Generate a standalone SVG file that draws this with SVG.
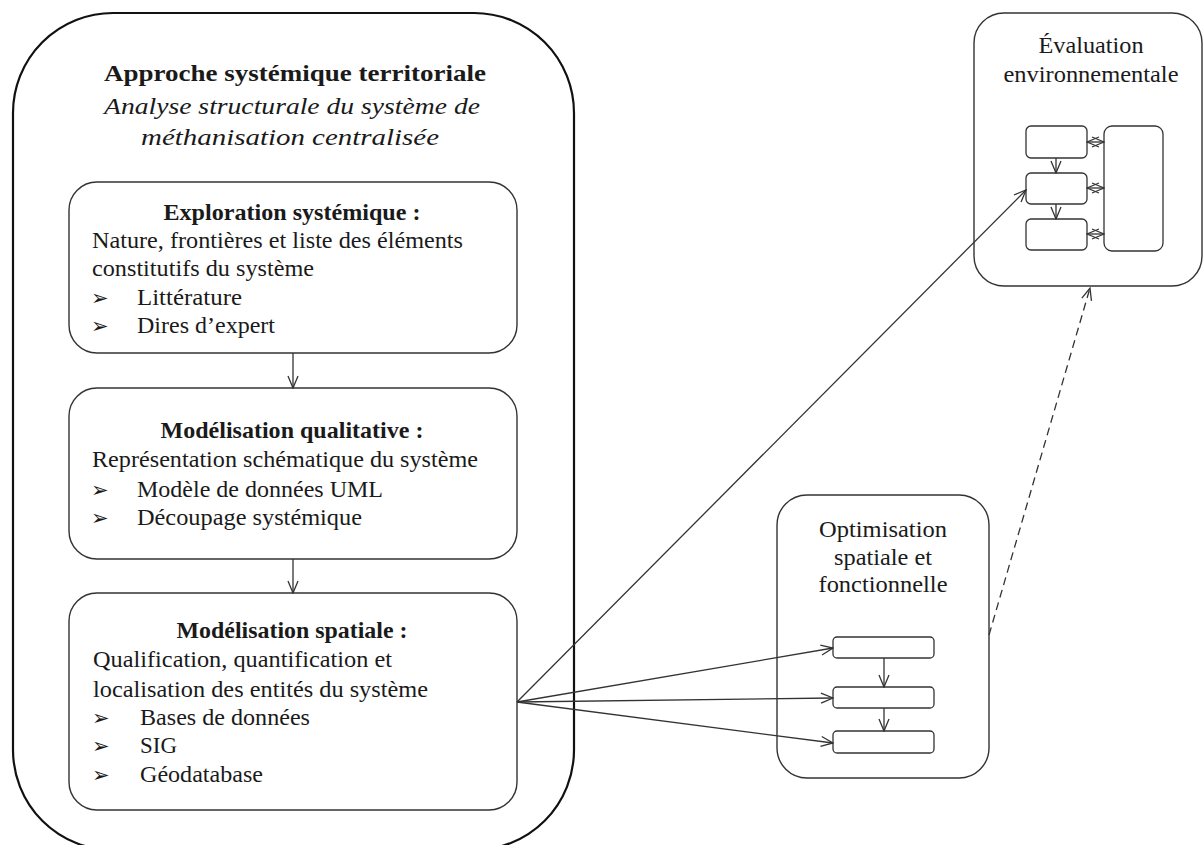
<svg xmlns="http://www.w3.org/2000/svg" width="1203" height="845" viewBox="0 0 1203 845">
<style>
.t{font-family:"Liberation Serif","Times New Roman",serif;font-size:23px;fill:#1a1a1a}
.b{font-weight:bold}
.i{font-style:italic}
.m{text-anchor:middle}
.bul{font-family:"DejaVu Sans",sans-serif;font-size:21px;fill:#1a1a1a}
.box{fill:#fff;stroke:#333;stroke-width:1.4}
.sm{fill:#fff;stroke:#333;stroke-width:1.3}
.c{fill:none;stroke:#333;stroke-width:1.3}
</style>
<defs>
<marker id="a" viewBox="0 0 14 12" refX="13" refY="6" markerWidth="14" markerHeight="12" markerUnits="userSpaceOnUse" orient="auto-start-reverse">
<path d="M1,1 L13,6 L1,11" fill="none" stroke="#333" stroke-width="1.3"/>
</marker>
<marker id="s" viewBox="0 0 14 12" refX="13" refY="6" markerWidth="14" markerHeight="12" markerUnits="userSpaceOnUse" orient="auto-start-reverse">
<path d="M1,1 L13,6 L1,11" fill="none" stroke="#333" stroke-width="1.2"/>
</marker>
</defs>
<rect id="outer" x="13" y="13" width="561" height="837" rx="100" ry="100" fill="#fff" stroke="#111" stroke-width="2.2"/>
<g id="title">
<text class="t b m" x="295" y="81" font-size="25" textLength="382" lengthAdjust="spacingAndGlyphs">Approche systémique territoriale</text>
<text class="t i m" x="292" y="114" textLength="376" lengthAdjust="spacingAndGlyphs">Analyse structurale du système de</text>
<text class="t i m" x="290" y="145" textLength="298" lengthAdjust="spacingAndGlyphs">méthanisation centralisée</text>
</g>
<g id="exploration">
<rect class="box" x="69" y="182" width="448" height="171" rx="28"/>
<text class="t b m" x="292" y="220" textLength="257" lengthAdjust="spacingAndGlyphs">Exploration systémique :</text>
<text class="t" x="92" y="248" textLength="371" lengthAdjust="spacingAndGlyphs">Nature, frontières et liste des éléments</text>
<text class="t" x="92" y="276" textLength="222" lengthAdjust="spacingAndGlyphs">constitutifs du système</text>
<text class="bul" x="91" y="305">➢</text>
<text class="t" x="137" y="305" textLength="105" lengthAdjust="spacingAndGlyphs">Littérature</text>
<text class="bul" x="91" y="333">➢</text>
<text class="t" x="137" y="333" textLength="138" lengthAdjust="spacingAndGlyphs">Dires d’expert</text>
</g>
<g id="qualitative">
<rect class="box" x="69" y="388" width="448" height="171" rx="28"/>
<text class="t b m" x="292" y="438" textLength="263" lengthAdjust="spacingAndGlyphs">Modélisation qualitative :</text>
<text class="t" x="92" y="467" textLength="386" lengthAdjust="spacingAndGlyphs">Représentation schématique du système</text>
<text class="bul" x="91" y="497">➢</text>
<text class="t" x="137" y="497" textLength="246" lengthAdjust="spacingAndGlyphs">Modèle de données UML</text>
<text class="bul" x="91" y="525">➢</text>
<text class="t" x="137" y="525" textLength="225" lengthAdjust="spacingAndGlyphs">Découpage systémique</text>
</g>
<g id="spatiale">
<rect class="box" x="69" y="593" width="448" height="217" rx="28"/>
<text class="t b m" x="292" y="638" textLength="231" lengthAdjust="spacingAndGlyphs">Modélisation spatiale :</text>
<text class="t" x="93" y="667" textLength="299" lengthAdjust="spacingAndGlyphs">Qualification, quantification et</text>
<text class="t" x="93" y="697" textLength="335" lengthAdjust="spacingAndGlyphs">localisation des entités du système</text>
<text class="bul" x="92" y="725">➢</text>
<text class="t" x="140" y="725" textLength="170" lengthAdjust="spacingAndGlyphs">Bases de données</text>
<text class="bul" x="92" y="753">➢</text>
<text class="t" x="140" y="753" textLength="37" lengthAdjust="spacingAndGlyphs">SIG</text>
<text class="bul" x="92" y="782">➢</text>
<text class="t" x="140" y="782" textLength="123" lengthAdjust="spacingAndGlyphs">Géodatabase</text>
</g>
<g id="evaluation">
<rect class="box" x="974" y="13" width="228" height="273" rx="30"/>
<text class="t m" x="1091" y="53" textLength="105" lengthAdjust="spacingAndGlyphs">Évaluation</text>
<text class="t m" x="1091" y="82" textLength="175" lengthAdjust="spacingAndGlyphs">environnementale</text>
<rect class="sm" x="1026" y="126" width="61" height="32" rx="5"/>
<rect class="sm" x="1026" y="173" width="61" height="31" rx="5"/>
<rect class="sm" x="1026" y="219" width="61" height="31" rx="5"/>
<rect class="sm" x="1104" y="126" width="59" height="125" rx="8"/>
</g>
<g id="optimisation">
<rect class="box" x="777" y="495" width="212" height="283" rx="30"/>
<text class="t m" x="883" y="537" textLength="128" lengthAdjust="spacingAndGlyphs">Optimisation</text>
<text class="t m" x="883" y="565" textLength="98" lengthAdjust="spacingAndGlyphs">spatiale et</text>
<text class="t m" x="883" y="592" textLength="129" lengthAdjust="spacingAndGlyphs">fonctionnelle</text>
<rect class="sm" x="833" y="637" width="101" height="21" rx="4"/>
<rect class="sm" x="833" y="687" width="101" height="21" rx="4"/>
<rect class="sm" x="833" y="731" width="101" height="22" rx="4"/>
</g>
<g id="connectors">
<line class="c" x1="293" y1="353" x2="293" y2="388" marker-end="url(#a)"/>
<line class="c" x1="293" y1="559" x2="293" y2="593" marker-end="url(#a)"/>
<line class="c" x1="517" y1="702" x2="1026" y2="190" marker-end="url(#a)"/>
<line class="c" x1="517" y1="702" x2="833" y2="648" marker-end="url(#a)"/>
<line class="c" x1="517" y1="702" x2="833" y2="698" marker-end="url(#a)"/>
<line class="c" x1="517" y1="702" x2="833" y2="743" marker-end="url(#a)"/>
<line class="c" x1="884" y1="658" x2="884" y2="687" marker-end="url(#a)"/>
<line class="c" x1="884" y1="708" x2="884" y2="731" marker-end="url(#a)"/>
<line class="c" x1="989" y1="635" x2="1090" y2="288" stroke-dasharray="8,5" marker-end="url(#a)"/>
<line class="c" x1="1056" y1="158" x2="1056" y2="173" marker-end="url(#a)"/>
<line class="c" x1="1056" y1="204" x2="1056" y2="219" marker-end="url(#a)"/>
<line class="c" x1="1087" y1="142" x2="1104" y2="142" marker-start="url(#s)" marker-end="url(#s)"/>
<line class="c" x1="1087" y1="188" x2="1104" y2="188" marker-start="url(#s)" marker-end="url(#s)"/>
<line class="c" x1="1087" y1="234" x2="1104" y2="234" marker-start="url(#s)" marker-end="url(#s)"/>
</g>
</svg>
